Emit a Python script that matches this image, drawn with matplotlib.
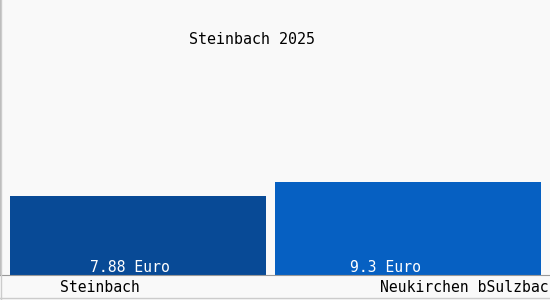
import matplotlib
matplotlib.use("Agg")
import matplotlib.pyplot as plt

categories = ["Steinbach", "Neukirchen bSulzbac"]
values = [7.88, 9.3]
value_labels = ["7.88 Euro", "9.3 Euro"]
title = "Steinbach 2025"
colors = ["#084a96", "#0660c2"]
widths = [0.948, 0.985]

plt.rcParams['font.family'] = ['DejaVu Sans Mono']

fig = plt.figure(figsize=(5.5, 3.0), dpi=100)
fig.patch.set_facecolor("#f9f9f9")
ax = fig.add_axes([0, 25 / 300, 1, 275 / 300])
ax.set_facecolor("#f9f9f9")

xs = range(len(categories))
ax.bar(xs, values, width=widths, color=colors)
ax.set_xlim(-138 / 270, 412 / 270)
ax.set_ylim(0, 27.5)

# value labels sit inside the bars, at the bottom
label_shift = [-0.03, -0.085]
for i, lab in enumerate(value_labels):
    ax.text(i + label_shift[i], -0.05, lab, color="white", ha="center",
            va="bottom", fontsize=10.6)

# category labels below the axis
ax.text(0 - 0.14, -1.2, categories[0], ha="center", va="center",
        fontsize=10.6, clip_on=False)
ax.text(1 - 0.104, -1.2, categories[1], ha="left", va="center",
        fontsize=10.6, clip_on=False)

ax.text(0.458, 0.855, title, transform=ax.transAxes, ha="center",
        va="center", fontsize=10.8)

for s in ["top", "right"]:
    ax.spines[s].set_visible(False)
ax.spines["bottom"].set_color("#999999")
ax.spines["left"].set_color("#bbbbbb")
ax.set_xticks([])
ax.set_yticks([])

fig.add_artist(plt.Line2D([0, 1], [0.006, 0.006], color="#cccccc", lw=1))
fig.add_artist(plt.Line2D([0.001, 0.001], [0, 1], color="#cccccc", lw=1))

fig.savefig("out.png", dpi=100, facecolor=fig.get_facecolor())
